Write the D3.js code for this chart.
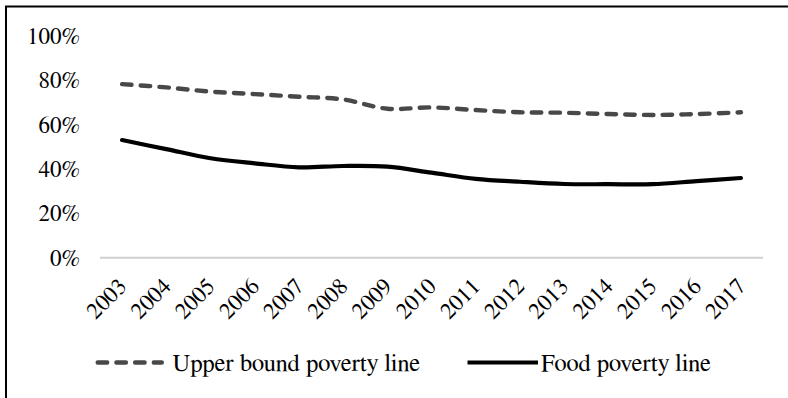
<!DOCTYPE html>
<html>
<head>
<meta charset="utf-8">
<script src="https://cdn.jsdelivr.net/npm/d3@7"></script>
<style>
  html, body { margin: 0; padding: 0; background: #fff; overflow: hidden; }
  svg { display: block; }
</style>
</head>
<body>
<svg id="chart" width="788" height="398"></svg>
<script>
// Share of population below each poverty line, 2003–2017
const years = ["2003","2004","2005","2006","2007","2008","2009","2010","2011","2012","2013","2014","2015","2016","2017"];
const upperBound = [0.782, 0.767, 0.748, 0.737, 0.725, 0.713, 0.671, 0.677, 0.665, 0.655, 0.653, 0.647, 0.643, 0.647, 0.655];
const foodLine   = [0.530, 0.489, 0.448, 0.425, 0.407, 0.413, 0.410, 0.383, 0.355, 0.342, 0.332, 0.331, 0.331, 0.345, 0.359];
const yTicks = [0, 0.2, 0.4, 0.6, 0.8, 1.0];
const seriesNames = ["Upper bound poverty line", "Food poverty line"];

const FONT = "FreeSerif, 'Liberation Serif', 'Times New Roman', serif";

const svg = d3.select("#chart");

// outer frame
svg.append("rect")
  .attr("x", 6).attr("y", 6.5)
  .attr("width", 820).attr("height", 420)
  .attr("fill", "none").attr("stroke", "#000").attr("stroke-width", 2);

const plot = { left: 100, right: 763, top: 35.7, bottom: 257.7 };

const x = d3.scaleBand().domain(years).range([plot.left, plot.right]);
const y = d3.scaleLinear().domain([0, 1]).range([plot.bottom, plot.top]);
const cx = d => x(d) + x.bandwidth() / 2;

// y axis labels (no axis line, no ticks)
const yAxis = d3.axisLeft(y).tickValues(yTicks).tickFormat(d3.format(".0%")).tickSize(0).tickPadding(0);
const gy = svg.append("g").attr("transform", `translate(80,0)`).call(yAxis);
gy.attr("font-family", null).attr("font-size", null);
gy.select(".domain").remove();
gy.selectAll("text")
  .style("font-family", FONT)
  .style("font-size", "23px")
  .attr("dy", "0.33em")
  .attr("fill", "#000");

// category axis baseline
svg.append("line")
  .attr("x1", plot.left).attr("x2", plot.right)
  .attr("y1", y(0)).attr("y2", y(0))
  .attr("stroke", "#d0d0d0").attr("stroke-width", 2);

// rotated year labels
svg.append("g").selectAll("text")
  .data(years).join("text")
  .attr("transform", d => `translate(${cx(d) + 6},${y(0) + 30}) rotate(-45)`)
  .attr("text-anchor", "end")
  .style("font-family", FONT)
  .style("font-size", "23px")
  .attr("fill", "#000")
  .text(d => d);

const line = d3.line()
  .x((d, i) => cx(years[i]))
  .y(d => y(d))
  .curve(d3.curveCatmullRom.alpha(0.5));

const dashStyle = { color: "#484848", dash: "9.5,9.2" };

svg.append("path")
  .datum(upperBound)
  .attr("d", line)
  .attr("fill", "none")
  .attr("stroke", dashStyle.color)
  .attr("stroke-width", 4.4)
  .attr("stroke-linecap", "round")
  .attr("stroke-dasharray", dashStyle.dash);

svg.append("path")
  .datum(foodLine)
  .attr("d", line)
  .attr("fill", "none")
  .attr("stroke", "#000")
  .attr("stroke-width", 4.2)
  .attr("stroke-linecap", "round");

// legend
const legendY = 362.5;
const legend = svg.append("g");
legend.append("line")
  .attr("x1", 97.7).attr("x2", 161.8).attr("y1", legendY).attr("y2", legendY)
  .attr("stroke", dashStyle.color).attr("stroke-width", 4.4)
  .attr("stroke-linecap", "round").attr("stroke-dasharray", dashStyle.dash);
legend.append("text")
  .attr("x", 172.5).attr("y", legendY + 8)
  .style("font-family", FONT)
  .style("font-size", "24.5px")
  .attr("fill", "#000")
  .text(seriesNames[0]);
legend.append("line")
  .attr("x1", 467.5).attr("x2", 538).attr("y1", legendY).attr("y2", legendY)
  .attr("stroke", "#000").attr("stroke-width", 4.2);
legend.append("text")
  .attr("x", 541).attr("y", legendY + 8)
  .style("font-family", FONT)
  .style("font-size", "24.5px")
  .attr("fill", "#000")
  .text(seriesNames[1]);
</script>
</body>
</html>
